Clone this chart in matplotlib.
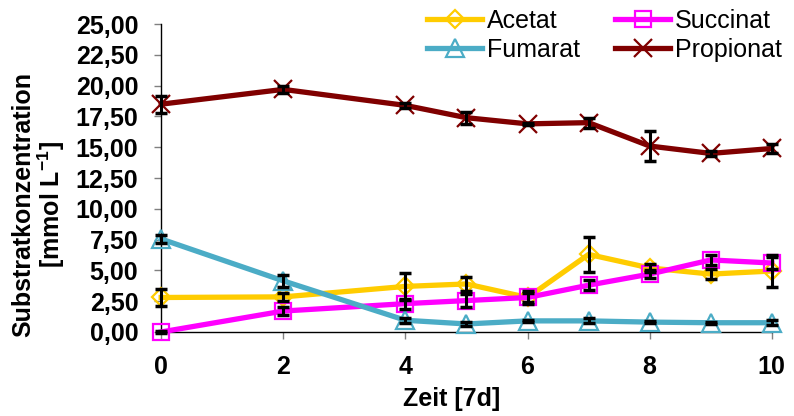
import matplotlib
matplotlib.use("Agg")
import matplotlib.pyplot as plt

plt.rcParams['font.family'] = ['Liberation Sans', 'DejaVu Sans']
plt.rcParams['mathtext.fontset'] = 'custom'
plt.rcParams['mathtext.rm'] = 'Liberation Sans'
plt.rcParams['mathtext.bf'] = 'Liberation Sans:bold'

weeks = [0, 2, 4, 5, 6, 7, 8, 9, 10]

acetat = [2.8, 2.85, 3.7, 3.9, 2.8, 6.3, 5.2, 4.7, 4.95]
acetat_err = [0.7, 0.3, 1.1, 0.6, 0.5, 1.4, 0.3, 0.4, 1.3]

succinat = [0.0, 1.7, 2.3, 2.55, 2.8, 3.8, 4.7, 5.85, 5.6]
succinat_err = [0.1, 0.3, 0.4, 0.5, 0.4, 0.4, 0.3, 0.4, 0.5]

fumarat = [7.55, 4.15, 0.95, 0.65, 0.9, 0.9, 0.8, 0.75, 0.75]
fumarat_err = [0.3, 0.5, 0.2, 0.2, 0.1, 0.2, 0.1, 0.1, 0.2]

propionat = [18.5, 19.7, 18.4, 17.4, 16.9, 17.0, 15.1, 14.5, 14.9]
propionat_err = [0.7, 0.3, 0.2, 0.5, 0.1, 0.4, 1.2, 0.2, 0.4]

yticks = [0, 2.5, 5, 7.5, 10, 12.5, 15, 17.5, 20, 22.5, 25]
ytick_labels = ["0,00", "2,50", "5,00", "7,50", "10,00", "12,50", "15,00",
                "17,50", "20,00", "22,50", "25,00"]
xticks = [0, 2, 4, 6, 8, 10]

series = {
    "Acetat": (acetat, acetat_err, "#FFCC00", "D", 9),
    "Succinat": (succinat, succinat_err, "#FF00FF", "s", 12),
    "Fumarat": (fumarat, fumarat_err, "#4BACC6", "^", 13),
    "Propionat": (propionat, propionat_err, "#800000", "x", 13),
}

fig = plt.figure(figsize=(7.94, 4.16), dpi=100)
ax = fig.add_axes([0.203, 0.202, 0.769, 0.740])

handles = {}
for name, (vals, err, col, mk, ms) in series.items():
    h, = ax.plot(weeks, vals, color=col, lw=3.8, marker=mk, ms=ms,
                 mfc='none', mec=col, mew=1.6, label=name, clip_on=False, zorder=3)
    ax.errorbar(weeks, vals, yerr=err, fmt='none', ecolor='black',
                elinewidth=2.2, capsize=4, capthick=2.5, zorder=4, clip_on=False)
    handles[name] = h

ax.set_xlim(0, 10)
ax.set_ylim(0, 25)
ax.set_xticks(xticks)
ax.set_xticklabels([str(x) for x in xticks], fontsize=18, fontweight='bold')
ax.set_yticks(yticks)
ax.set_yticklabels(ytick_labels, fontsize=18, fontweight='bold')
ax.tick_params(axis='both', direction='out', length=5, width=1, color='#808080')
ax.tick_params(axis='x', pad=11.5)
ax.tick_params(axis='y', pad=11.5)

for s in ['top', 'right']:
    ax.spines[s].set_visible(False)
for s in ['left', 'bottom']:
    ax.spines[s].set_color('black')
    ax.spines[s].set_linewidth(1)

ax.set_xlabel("Zeit [7d]", fontsize=18, fontweight='bold')
ax.xaxis.set_label_coords(0.476, -0.18)
ax.set_ylabel("Substratkonzentration\n[mmol L$^{\\mathbf{-1}}$]", fontsize=18,
              fontweight='bold', linespacing=1.0)
ax.yaxis.set_label_coords(-0.154, 0.413)

order = ["Acetat", "Fumarat", "Succinat", "Propionat"]
leg = ax.legend(handles=[handles[n] for n in order], loc='upper left', ncol=2,
                frameon=False, fontsize=18, bbox_to_anchor=(0.538, 0.978),
                bbox_transform=fig.transFigure, handlelength=2.2,
                handletextpad=0.2, columnspacing=1.4, labelspacing=0.2,
                borderaxespad=0, borderpad=0)

fig.savefig("out.png", dpi=100)
